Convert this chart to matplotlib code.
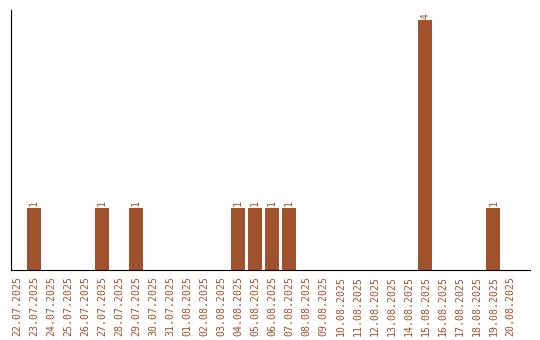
import matplotlib
matplotlib.use("Agg")
import matplotlib.pyplot as plt

# daily counts
dates = ["22.07.2025", "23.07.2025", "24.07.2025", "25.07.2025", "26.07.2025",
         "27.07.2025", "28.07.2025", "29.07.2025", "30.07.2025", "31.07.2025",
         "01.08.2025", "02.08.2025", "03.08.2025", "04.08.2025", "05.08.2025",
         "06.08.2025", "07.08.2025", "08.08.2025", "09.08.2025", "10.08.2025",
         "11.08.2025", "12.08.2025", "13.08.2025", "14.08.2025", "15.08.2025",
         "16.08.2025", "17.08.2025", "18.08.2025", "19.08.2025", "20.08.2025"]
counts = [0, 1, 0, 0, 0, 1, 0, 1, 0, 0,
          0, 0, 0, 1, 1, 1, 1, 0, 0, 0,
          0, 0, 0, 0, 4, 0, 0, 0, 1, 0]

brown = "#a0522d"

fig = plt.figure(figsize=(5.4, 3.4), dpi=100)
ax = fig.add_axes([11 / 540, 70 / 340, 519 / 540, 260 / 340])

x = list(range(len(dates)))
ax.bar(x, counts, width=0.82, color=brown)

for xi, c in zip(x, counts):
    if c > 0:
        ax.text(xi, c + 0.02, str(c), rotation=90, ha="center", va="bottom",
                color=brown, fontsize=7.1, family="DejaVu Sans Mono")

ax.set_xlim(-0.35, 30.15)
ax.set_ylim(0, 4.16)
ax.set_xticks(x)
ax.set_xticklabels(dates, rotation=90, color=brown, fontsize=7.1,
                   family="DejaVu Sans Mono")
ax.tick_params(axis="x", length=0, pad=4)
ax.set_yticks([])
ax.spines["top"].set_visible(False)
ax.spines["right"].set_visible(False)

fig.savefig("out.png", dpi=100)
